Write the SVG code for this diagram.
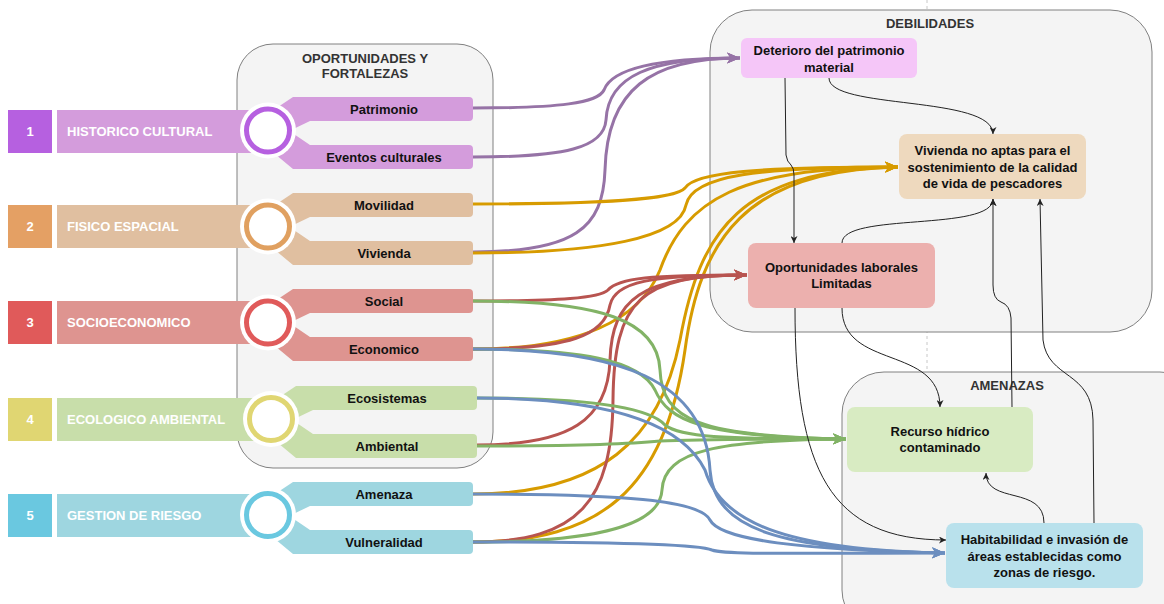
<svg xmlns="http://www.w3.org/2000/svg" width="1164" height="604" viewBox="0 0 1164 604">
<style>
.cont{fill:#f4f4f4;stroke:#808080;stroke-width:1}
.ttl{font-family:"Liberation Sans",Arial,sans-serif;font-weight:bold;font-size:13px;fill:#333;text-anchor:middle}
.num{font-family:"Liberation Sans",Arial,sans-serif;font-weight:bold;font-size:13px;fill:#fff;text-anchor:middle}
.lab{font-family:"Liberation Sans",Arial,sans-serif;font-weight:bold;font-size:13px;fill:#fff}
.br{font-family:"Liberation Sans",Arial,sans-serif;font-weight:bold;font-size:13px;fill:#111;text-anchor:middle}
.nt{font-family:"Liberation Sans",Arial,sans-serif;font-weight:bold;font-size:13px;fill:#111;text-anchor:middle}
.c{fill:none;stroke-width:3}
.k{fill:none;stroke:#222;stroke-width:1}
.pu{stroke:#9673a6}.go{stroke:#d79b00}.re{stroke:#b85450}.gr{stroke:#82b366}.bl{stroke:#6c8ebf}
</style>
<defs>
<marker id="mpu" markerUnits="userSpaceOnUse" markerWidth="14" markerHeight="12" refX="13" refY="6" orient="auto"><path d="M0,0.5 L13,6 L0,11.5 L3.5,6 Z" fill="#9673a6"/></marker>
<marker id="mgo" markerUnits="userSpaceOnUse" markerWidth="14" markerHeight="12" refX="13" refY="6" orient="auto"><path d="M0,0.5 L13,6 L0,11.5 L3.5,6 Z" fill="#d79b00"/></marker>
<marker id="mre" markerUnits="userSpaceOnUse" markerWidth="14" markerHeight="12" refX="13" refY="6" orient="auto"><path d="M0,0.5 L13,6 L0,11.5 L3.5,6 Z" fill="#b85450"/></marker>
<marker id="mgr" markerUnits="userSpaceOnUse" markerWidth="14" markerHeight="12" refX="13" refY="6" orient="auto"><path d="M0,0.5 L13,6 L0,11.5 L3.5,6 Z" fill="#82b366"/></marker>
<marker id="mbl" markerUnits="userSpaceOnUse" markerWidth="14" markerHeight="12" refX="13" refY="6" orient="auto"><path d="M0,0.5 L13,6 L0,11.5 L3.5,6 Z" fill="#6c8ebf"/></marker>
<marker id="mk" markerUnits="userSpaceOnUse" markerWidth="8" markerHeight="7" refX="7" refY="3.5" orient="auto"><path d="M0,0 L7,3.5 L0,7 L2,3.5 Z" fill="#222"/></marker>
</defs>

<line x1="927" y1="0" x2="927" y2="604" stroke="#c8c8c8" stroke-width="1" stroke-dasharray="3,3"/>

<g id="oportunidades-fortalezas">
<rect class="cont" x="237" y="44" width="256" height="424" rx="36"/>
<text class="ttl" x="365" y="63">OPORTUNIDADES Y</text>
<text class="ttl" x="365" y="78">FORTALEZAS</text>
</g>
<g id="debilidades">
<rect class="cont" x="710" y="10" width="442" height="322" rx="42"/>
<text class="ttl" x="930" y="28">DEBILIDADES</text>
</g>
<g id="amenazas">
<rect class="cont" x="842" y="372" width="360" height="260" rx="42"/>
<text class="ttl" x="1007" y="390">AMENAZAS</text>
</g>

<g id="row1">
<rect x="8" y="110" width="44" height="43" fill="#b660e0"/>
<text class="num" x="30" y="135.5">1</text>
<rect x="57" y="110" width="211" height="43" fill="#d49cdc"/>
<text class="lab" x="67" y="135.5">HISTORICO CULTURAL</text>
<path d="M263 117 L293 97 L469 97 Q473 97 473 101 L473 117 Q473 121 469 121 L310 121 L285 133 Z" fill="#d49cdc"/>
<path d="M285 128 L310 145 L469 145 Q473 145 473 149 L473 165 Q473 169 469 169 L293 169 L263 144 Z" fill="#d49cdc"/>
<circle cx="268" cy="130.5" r="28" fill="#fff"/>
<circle cx="268" cy="130.5" r="21.5" fill="#fff" stroke="#b660e0" stroke-width="5"/>
<text class="br" x="384" y="113.5">Patrimonio</text>
<text class="br" x="384" y="161.5">Eventos culturales</text>
</g>

<g id="row2">
<rect x="8" y="205" width="44" height="43" fill="#e4a064"/>
<text class="num" x="30" y="231">2</text>
<rect x="57" y="205" width="211" height="43" fill="#e0bfa0"/>
<text class="lab" x="67" y="231">FISICO ESPACIAL</text>
<path d="M263 213 L293 193 L469 193 Q473 193 473 197 L473 213 Q473 217 469 217 L310 217 L285 229 Z" fill="#e0bfa0"/>
<path d="M285 224 L310 241 L469 241 Q473 241 473 245 L473 261 Q473 265 469 265 L293 265 L263 240 Z" fill="#e0bfa0"/>
<circle cx="268" cy="226.5" r="28" fill="#fff"/>
<circle cx="268" cy="226.5" r="21.5" fill="#fff" stroke="#e0a060" stroke-width="5"/>
<text class="br" x="384" y="209.5">Movilidad</text>
<text class="br" x="384" y="257.5">Vivienda</text>
</g>

<g id="row3">
<rect x="8" y="301" width="44" height="43" fill="#e05a5a"/>
<text class="num" x="30" y="327">3</text>
<rect x="57" y="301" width="211" height="43" fill="#de9490"/>
<text class="lab" x="67" y="327">SOCIOECONOMICO</text>
<path d="M263 309 L293 289 L469 289 Q473 289 473 293 L473 309 Q473 313 469 313 L310 313 L285 325 Z" fill="#de9490"/>
<path d="M285 320 L310 337 L469 337 Q473 337 473 341 L473 357 Q473 361 469 361 L293 361 L263 336 Z" fill="#de9490"/>
<circle cx="268" cy="322.5" r="28" fill="#fff"/>
<circle cx="268" cy="322.5" r="21.5" fill="#fff" stroke="#e05a5a" stroke-width="5"/>
<text class="br" x="384" y="305.5">Social</text>
<text class="br" x="384" y="353.5">Economico</text>
</g>

<g id="row4">
<rect x="8" y="398" width="44" height="43" fill="#e0d672"/>
<text class="num" x="30" y="424">4</text>
<rect x="57" y="398" width="214" height="43" fill="#c8deaa"/>
<text class="lab" x="67" y="424">ECOLOGICO AMBIENTAL</text>
<path d="M266 406 L296 386 L473 386 Q477 386 477 390 L477 406 Q477 410 473 410 L313 410 L288 422 Z" fill="#c8deaa"/>
<path d="M288 417 L313 434 L473 434 Q477 434 477 438 L477 454 Q477 458 473 458 L296 458 L266 433 Z" fill="#c8deaa"/>
<circle cx="271" cy="419" r="28" fill="#fff"/>
<circle cx="271" cy="419" r="21.5" fill="#fff" stroke="#e0d672" stroke-width="5"/>
<text class="br" x="387" y="402.5">Ecosistemas</text>
<text class="br" x="387" y="450.5">Ambiental</text>
</g>

<g id="row5">
<rect x="8" y="494" width="44" height="43" fill="#6ac8e0"/>
<text class="num" x="30" y="520">5</text>
<rect x="57" y="494" width="211" height="43" fill="#9ed6e0"/>
<text class="lab" x="67" y="520">GESTION DE RIESGO</text>
<path d="M263 502 L293 482 L469 482 Q473 482 473 486 L473 502 Q473 506 469 506 L310 506 L285 518 Z" fill="#9ed6e0"/>
<path d="M285 513 L310 530 L469 530 Q473 530 473 534 L473 550 Q473 554 469 554 L293 554 L263 529 Z" fill="#9ed6e0"/>
<circle cx="268" cy="515" r="28" fill="#fff"/>
<circle cx="268" cy="515" r="21.5" fill="#fff" stroke="#6ac8e0" stroke-width="5"/>
<text class="br" x="384" y="498.5">Amenaza</text>
<text class="br" x="384" y="546.5">Vulneralidad</text>
</g>

<g id="connectors">
<path class="c pu" marker-end="url(#mpu)" d="M473 108 C560 108 598 103 604 90 C612 68 660 58 740 58"/>
<path class="c pu" marker-end="url(#mpu)" d="M473 157 C565 157 604 148 606 120 C608 76 650 58 740 58"/>
<path class="c pu" marker-end="url(#mpu)" d="M473 252 C575 252 603 228 605 170 C607 90 650 58 740 58"/>

<path class="c go" marker-end="url(#mgo)" d="M473 204 C600 204 675 200 685 188 C695 172 760 167 898 167"/>
<path class="c go" marker-end="url(#mgo)" d="M473 253 C600 253 680 238 686 205 C692 175 760 167 898 167"/>
<path class="c go" marker-end="url(#mgo)" d="M473 349 C580 349 640 320 660 270 C685 200 740 167 898 167"/>
<path class="c go" marker-end="url(#mgo)" d="M473 494 C600 494 660 440 680 340 C700 230 740 170 898 167"/>
<path class="c go" marker-end="url(#mgo)" d="M473 542 C600 542 665 490 685 350 C700 240 745 170 898 167"/>

<path class="c re" marker-end="url(#mre)" d="M473 301 C560 301 600 298 608 290 C618 278 650 275 747 275"/>
<path class="c re" marker-end="url(#mre)" d="M473 349 C570 349 605 335 610 305 C615 282 650 275 747 275"/>
<path class="c re" marker-end="url(#mre)" d="M477 445 C570 445 608 420 610 360 C612 300 640 275 747 275"/>
<path class="c re" marker-end="url(#mre)" d="M473 542 C580 542 612 500 613 400 C614 300 640 275 747 275"/>

<path class="c gr" marker-end="url(#mgr)" d="M473 301 C600 301 658 320 660 370 C662 420 700 437 846 439"/>
<path class="c gr" marker-end="url(#mgr)" d="M473 349 C580 349 640 360 655 390 C668 420 700 437 846 439"/>
<path class="c gr" marker-end="url(#mgr)" d="M477 398 C590 398 650 408 665 425 C680 437 720 439 846 439"/>
<path class="c gr" marker-end="url(#mgr)" d="M477 446 C600 446 640 443 660 441 C700 439 760 439 846 439"/>
<path class="c gr" marker-end="url(#mgr)" d="M473 542 C580 542 660 530 662 490 C664 450 720 440 846 439"/>

<path class="c bl" marker-end="url(#mbl)" d="M473 349 C620 349 705 380 710 470 C714 530 780 550 945 553"/>
<path class="c bl" marker-end="url(#mbl)" d="M477 398 C600 398 680 420 705 470 C720 520 780 550 945 553"/>
<path class="c bl" marker-end="url(#mbl)" d="M473 494 C620 494 700 500 710 520 C720 540 800 550 945 553"/>
<path class="c bl" marker-end="url(#mbl)" d="M473 542 C620 542 700 545 712 550 C725 555 800 553 945 553"/>

<path class="k" marker-end="url(#mk)" d="M785 78 L786 155 Q787 162 791 165 Q794 168 794 175 L794 243"/>
<path class="k" marker-end="url(#mk)" d="M829 78 C829 110 993 95 993 134"/>
<path class="k" marker-end="url(#mk)" d="M842 243 C842 212 993 232 993 199"/>
<path class="k" marker-end="url(#mk)" d="M795 308 C795 470 830 540 946 540"/>
<path class="k" marker-end="url(#mk)" d="M842 308 C842 370 940 345 940 407"/>
<path class="k" marker-end="url(#mk)" d="M1012 407 L1011 318 Q1010 305 1001 302 Q993 299 993 285 L993 199"/>
<path class="k" marker-end="url(#mk)" d="M1094 523 L1093 420 C1092 370 1048 380 1043 340 L1040 199"/>
<path class="k" marker-end="url(#mk)" d="M1044 523 C1044 485 986 505 986 473"/>
</g>

<g id="deterioro">
<rect x="741" y="38" width="176" height="40" rx="6" fill="#f5c6f8"/>
<text class="nt" x="829" y="55">Deterioro del patrimonio</text>
<text class="nt" x="829" y="71.5">material</text>
</g>
<g id="vivienda-no-aptas">
<rect x="899" y="134" width="187" height="65" rx="8" fill="#eed9be"/>
<text class="nt" x="992.5" y="155">Vivienda no aptas para el</text>
<text class="nt" x="992.5" y="171.5">sostenimiento de la calidad</text>
<text class="nt" x="992.5" y="188">de vida de pescadores</text>
</g>
<g id="oportunidades-laborales">
<rect x="748" y="243" width="187" height="65" rx="8" fill="#ecb0ae"/>
<text class="nt" x="841.5" y="271.5">Oportunidades laborales</text>
<text class="nt" x="841.5" y="288">Limitadas</text>
</g>
<g id="recurso-hidrico">
<rect x="847" y="407" width="186" height="65" rx="8" fill="#d8ebc2"/>
<text class="nt" x="940" y="435.5">Recurso hídrico</text>
<text class="nt" x="940" y="452">contaminado</text>
</g>
<g id="habitabilidad">
<rect x="946" y="523" width="197" height="65" rx="8" fill="#b9e1ec"/>
<text class="nt" x="1044.5" y="544">Habitabilidad e invasión de</text>
<text class="nt" x="1044.5" y="560.5">áreas establecidas como</text>
<text class="nt" x="1044.5" y="577">zonas de riesgo.</text>
</g>
</svg>
